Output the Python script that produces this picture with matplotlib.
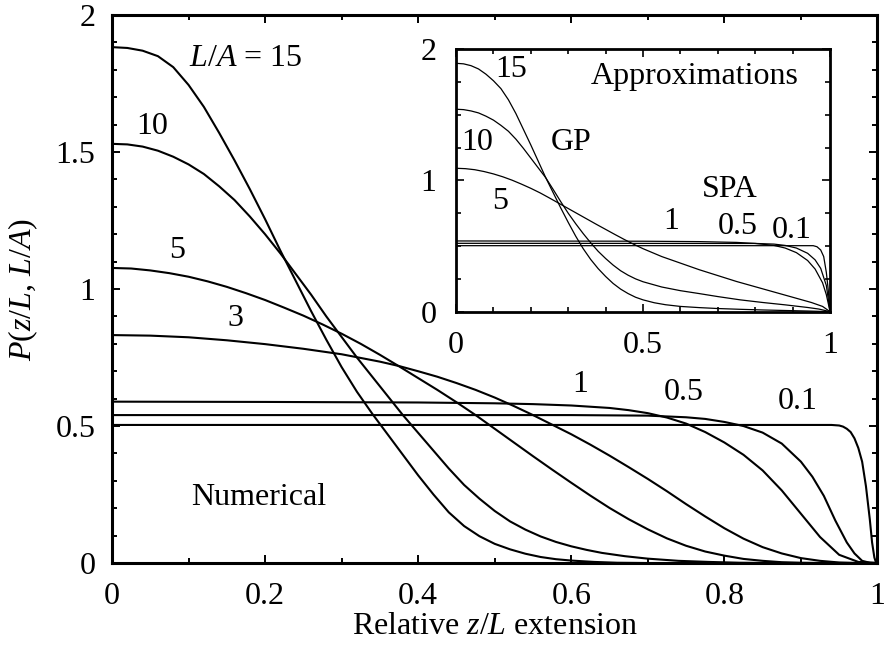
import matplotlib
matplotlib.use("Agg")
import matplotlib.pyplot as plt
from matplotlib.ticker import MultipleLocator

plt.rcParams["font.family"] = ["Liberation Serif", "DejaVu Serif"]
plt.rcParams["mathtext.fontset"] = "custom"
plt.rcParams["mathtext.rm"] = "Liberation Serif"
plt.rcParams["mathtext.it"] = "Liberation Serif:italic"

# numerical curves (main plot)
x_15 = [0, 0.02, 0.04, 0.06, 0.08, 0.10, 0.12, 0.14, 0.16, 0.18, 0.20, 0.22, 0.24, 0.26, 0.28, 0.30,
        0.32, 0.34, 0.36, 0.38, 0.40, 0.42, 0.44, 0.46, 0.48, 0.50, 0.52, 0.54, 0.56, 0.58, 0.60,
        0.63, 0.66, 0.70, 1.0]
p_15 = [1.883, 1.880, 1.870, 1.850, 1.810, 1.745, 1.665, 1.570, 1.470, 1.365, 1.255, 1.14, 1.03, 0.92,
        0.815, 0.715, 0.625, 0.545, 0.47, 0.395, 0.32, 0.25, 0.185, 0.135, 0.098, 0.07, 0.05, 0.034,
        0.022, 0.014, 0.009, 0.004, 0.001, 0.0, 0.0]

x_10 = [0, 0.02, 0.04, 0.06, 0.08, 0.10, 0.12, 0.14, 0.16, 0.18, 0.20, 0.22, 0.24, 0.26, 0.28, 0.30,
        0.32, 0.34, 0.36, 0.38, 0.40, 0.42, 0.44, 0.46, 0.48, 0.50, 0.52, 0.54, 0.56, 0.58, 0.60,
        0.62, 0.64, 0.67, 0.70, 0.74, 0.78, 0.82, 0.86, 1.0]
p_10 = [1.530, 1.528, 1.52, 1.505, 1.483, 1.455, 1.42, 1.375, 1.325, 1.265, 1.20, 1.13, 1.055, 0.98,
        0.90, 0.825, 0.75, 0.68, 0.61, 0.54, 0.475, 0.41, 0.345, 0.285, 0.235, 0.19, 0.152, 0.122,
        0.097, 0.077, 0.061, 0.048, 0.037, 0.025, 0.016, 0.008, 0.004, 0.001, 0.0, 0.0]

x_5 = [0, 0.025, 0.05, 0.075, 0.10, 0.125, 0.15, 0.175, 0.20, 0.225, 0.25, 0.275, 0.30, 0.325, 0.35,
       0.375, 0.40, 0.425, 0.45, 0.475, 0.50, 0.525, 0.55, 0.575, 0.60, 0.625, 0.65, 0.675, 0.70,
       0.725, 0.75, 0.775, 0.80, 0.825, 0.85, 0.875, 0.90, 0.93, 1.0]
p_5 = [1.077, 1.075, 1.068, 1.058, 1.045, 1.028, 1.008, 0.985, 0.96, 0.932, 0.903, 0.871, 0.837, 0.80,
       0.76, 0.718, 0.675, 0.632, 0.587, 0.54, 0.49, 0.44, 0.39, 0.341, 0.293, 0.246, 0.201, 0.16,
       0.123, 0.09, 0.063, 0.042, 0.027, 0.015, 0.008, 0.003, 0.001, 0.0, 0.0]

x_3 = [0, 0.05, 0.10, 0.15, 0.20, 0.25, 0.30, 0.35, 0.375, 0.40, 0.425, 0.45, 0.475, 0.50, 0.525, 0.55,
       0.575, 0.60, 0.625, 0.65, 0.675, 0.70, 0.725, 0.75, 0.775, 0.80, 0.825, 0.85, 0.875, 0.90,
       0.925, 0.95, 0.975, 1.0]
p_3 = [0.832, 0.830, 0.824, 0.813, 0.799, 0.782, 0.762, 0.735, 0.719, 0.70, 0.68, 0.657, 0.632, 0.604,
       0.573, 0.54, 0.505, 0.47, 0.432, 0.392, 0.35, 0.307, 0.262, 0.215, 0.17, 0.127, 0.089, 0.058,
       0.035, 0.018, 0.008, 0.002, 0.0, 0.0]

x_1 = [0, 0.2, 0.4, 0.5, 0.55, 0.6, 0.65, 0.675, 0.70, 0.725, 0.75, 0.775, 0.80, 0.825, 0.85, 0.875,
       0.90, 0.925, 0.95, 0.975, 1.0]
p_1 = [0.589, 0.588, 0.586, 0.583, 0.58, 0.575, 0.566, 0.558, 0.547, 0.531, 0.509, 0.478, 0.44, 0.395,
       0.338, 0.265, 0.18, 0.095, 0.03, 0.004, 0.0]

x_05 = [0, 0.6, 0.7, 0.75, 0.775, 0.80, 0.825, 0.85, 0.875, 0.90, 0.915, 0.93, 0.945, 0.96, 0.97,
        0.98, 0.99, 1.0]
p_05 = [0.540, 0.540, 0.538, 0.532, 0.526, 0.515, 0.500, 0.476, 0.436, 0.37, 0.315, 0.245, 0.155,
        0.075, 0.035, 0.008, 0.001, 0.0]

x_01 = [0, 0.5, 0.94, 0.95, 0.955, 0.96, 0.965, 0.97, 0.975, 0.98, 0.985, 0.99, 0.993, 0.996, 0.998, 1.0]
p_01 = [0.504, 0.504, 0.504, 0.502, 0.498, 0.49, 0.478, 0.455, 0.42, 0.37, 0.28, 0.16, 0.075, 0.02,
        0.003, 0.0]

# approximations (inset): GP and SPA
gx_15 = [0, 0.02, 0.04, 0.06, 0.08, 0.10, 0.12, 0.14, 0.16, 0.18, 0.20, 0.22, 0.24, 0.26, 0.28, 0.30,
         0.32, 0.34, 0.36, 0.38, 0.40, 0.42, 0.44, 0.46, 0.48, 0.50, 0.53, 0.56, 0.60, 0.65, 0.70,
         0.76, 0.82, 0.88, 0.94, 1.0]
gp_15 = [1.893, 1.889, 1.875, 1.85, 1.81, 1.76, 1.70, 1.615, 1.51, 1.39, 1.27, 1.145, 1.02, 0.905,
         0.79, 0.68, 0.575, 0.48, 0.398, 0.328, 0.268, 0.215, 0.172, 0.138, 0.11, 0.09, 0.068, 0.053,
         0.04, 0.031, 0.024, 0.018, 0.013, 0.009, 0.005, 0.0]

gx_10 = [0, 0.02, 0.04, 0.06, 0.08, 0.10, 0.12, 0.14, 0.16, 0.18, 0.20, 0.22, 0.24, 0.26, 0.28, 0.30,
         0.32, 0.34, 0.36, 0.38, 0.40, 0.42, 0.44, 0.46, 0.48, 0.50, 0.55, 0.60, 0.65, 0.70, 0.76,
         0.82, 0.88, 0.94, 0.97, 1.0]
gp_10 = [1.543, 1.54, 1.53, 1.515, 1.49, 1.46, 1.42, 1.375, 1.315, 1.245, 1.17, 1.095, 1.02, 0.93,
         0.838, 0.75, 0.67, 0.595, 0.525, 0.46, 0.405, 0.355, 0.312, 0.278, 0.25, 0.228, 0.188, 0.16,
         0.138, 0.115, 0.09, 0.07, 0.052, 0.032, 0.02, 0.0]

gx_5 = [0, 0.025, 0.05, 0.075, 0.10, 0.125, 0.15, 0.175, 0.20, 0.225, 0.25, 0.275, 0.30, 0.325, 0.35,
        0.375, 0.40, 0.425, 0.45, 0.475, 0.50, 0.55, 0.60, 0.65, 0.70, 0.75, 0.80, 0.85, 0.90, 0.95,
        0.98, 1.0]
gp_5 = [1.093, 1.09, 1.082, 1.068, 1.05, 1.028, 1.002, 0.972, 0.94, 0.905, 0.866, 0.826, 0.786, 0.746,
        0.706, 0.666, 0.627, 0.588, 0.55, 0.514, 0.48, 0.42, 0.37, 0.32, 0.275, 0.23, 0.19, 0.15,
        0.11, 0.07, 0.04, 0.0]

sx_1 = [0, 0.5, 0.65, 0.75, 0.80, 0.85, 0.88, 0.91, 0.94, 0.96, 0.98, 0.99, 1.0]
sp_1 = [0.539, 0.537, 0.534, 0.528, 0.52, 0.505, 0.485, 0.45, 0.39, 0.325, 0.22, 0.13, 0.0]

sx_05 = [0, 0.8, 0.85, 0.88, 0.91, 0.94, 0.96, 0.975, 0.99, 1.0]
sp_05 = [0.521, 0.52, 0.515, 0.505, 0.485, 0.445, 0.395, 0.33, 0.2, 0.0]

sx_01 = [0, 0.955, 0.965, 0.975, 0.983, 0.99, 0.995, 1.0]
sp_01 = [0.503, 0.503, 0.495, 0.47, 0.42, 0.3, 0.17, 0.0]

fig = plt.figure(figsize=(8.89, 6.5), dpi=100)
ax = fig.add_axes([0.126, 0.1338, 0.861, 0.843])

for xs, ys in [(x_15, p_15), (x_10, p_10), (x_5, p_5), (x_3, p_3),
               (x_1, p_1), (x_05, p_05), (x_01, p_01)]:
    ax.plot(xs, ys, color="black", lw=1.5)

ax.set_xlim(0, 1)
ax.set_ylim(0, 2)
ax.set_xticks([0, 0.2, 0.4, 0.6, 0.8, 1])
ax.set_xticklabels(["0", "0.2", "0.4", "0.6", "0.8", "1"])
ax.set_yticks([0, 0.5, 1, 1.5, 2])
ax.set_yticklabels(["0", "0.5", "1", "1.5", "2"])
ax.xaxis.set_minor_locator(MultipleLocator(0.1))
ax.yaxis.set_minor_locator(MultipleLocator(0.1))
ax.tick_params(which="both", direction="in", top=True, right=True, width=1.4, labelsize=23)
ax.tick_params(which="major", length=6)
ax.tick_params(which="minor", length=3.5)
ax.tick_params(axis="x", pad=14)
ax.tick_params(axis="y", pad=12)
for s in ax.spines.values():
    s.set_linewidth(2.2)

ax.set_xlabel(r"Relative $z$/$L$ extension", fontsize=23)
ax.set_ylabel(r"$P$($z$/$L$, $L$/$A$)", fontsize=23)
ax.xaxis.set_label_coords(0.5, -0.09)
ax.yaxis.set_label_coords(-0.094, 0.5)

ax.text(0.174, 1.843, r"$L$/$A$ = 15", fontsize=23, ha="center", va="center")
ax.text(0.052, 1.595, "10", fontsize=23, ha="center", va="center")
ax.text(0.085, 1.142, "5", fontsize=23, ha="center", va="center")
ax.text(0.161, 0.894, "3", fontsize=23, ha="center", va="center")
ax.text(0.611, 0.653, "1", fontsize=23, ha="center", va="center")
ax.text(0.747, 0.624, "0.5", fontsize=23, ha="center", va="center")
ax.text(0.896, 0.591, "0.1", fontsize=23, ha="center", va="center")
ax.text(0.191, 0.241, "Numerical", fontsize=23, ha="center", va="center")

# inset
ins = fig.add_axes([0.513, 0.5205, 0.4207, 0.4037])
for xs, ys in [(gx_15, gp_15), (gx_10, gp_10), (gx_5, gp_5),
               (sx_1, sp_1), (sx_05, sp_05), (sx_01, sp_01)]:
    ins.plot(xs, ys, color="black", lw=0.9)
ins.set_xlim(0, 1)
ins.set_ylim(0, 2)
ins.set_xticks([0, 0.5, 1])
ins.set_xticklabels(["0", "0.5", "1"])
ins.set_yticks([0, 1, 2])
ins.set_yticklabels(["0", "1", "2"])
ins.xaxis.set_minor_locator(MultipleLocator(0.1))
ins.yaxis.set_minor_locator(MultipleLocator(0.25))
ins.tick_params(which="both", direction="in", top=True, right=True, width=1.2, labelsize=23)
ins.tick_params(which="major", length=6)
ins.tick_params(which="minor", length=3.5)
ins.tick_params(axis="x", pad=14)
ins.tick_params(axis="y", pad=14)
for s in ins.spines.values():
    s.set_linewidth(2.0)

ins.text(0.147, 1.842, "15", fontsize=23, ha="center", va="center")
ins.text(0.639, 1.789, "Approximations", fontsize=23, ha="center", va="center")
ins.text(0.056, 1.286, "10", fontsize=23, ha="center", va="center")
ins.text(0.307, 1.286, "GP", fontsize=23, ha="center", va="center")
ins.text(0.733, 0.928, "SPA", fontsize=23, ha="center", va="center")
ins.text(0.118, 0.836, "5", fontsize=23, ha="center", va="center")
ins.text(0.575, 0.691, "1", fontsize=23, ha="center", va="center")
ins.text(0.754, 0.646, "0.5", fontsize=23, ha="center", va="center")
ins.text(0.898, 0.615, "0.1", fontsize=23, ha="center", va="center")

fig.savefig("out.png", dpi=100)
